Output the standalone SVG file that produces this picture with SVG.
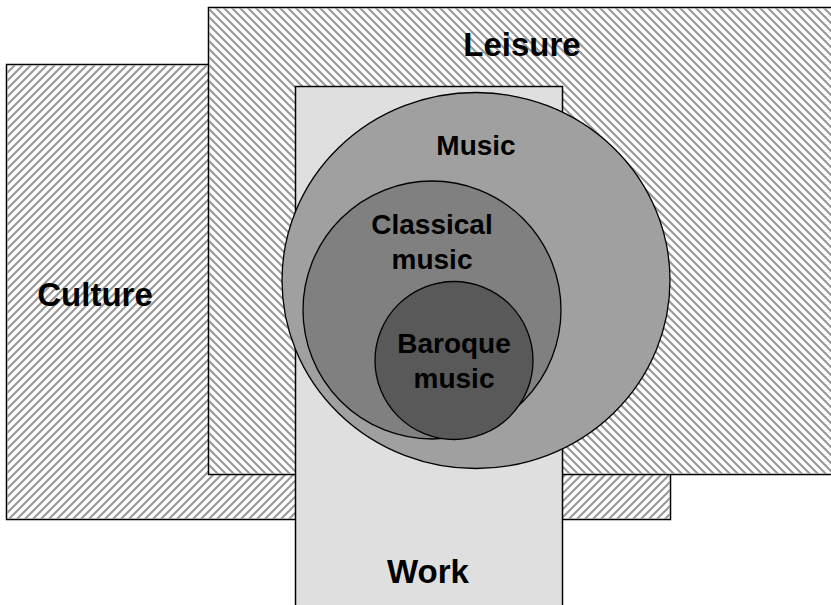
<svg xmlns="http://www.w3.org/2000/svg" width="831" height="605" viewBox="0 0 831 605">
  <defs>
    <!-- forward-slash hatching -->
    <pattern id="hatchFwd" patternUnits="userSpaceOnUse" width="8" height="8">
      <path d="M-2,2 L2,-2 M0,8 L8,0 M6,10 L10,6" stroke="#9a9a9a" stroke-width="2.2"/>
    </pattern>
    <!-- back-slash hatching -->
    <pattern id="hatchBack" patternUnits="userSpaceOnUse" width="8" height="8">
      <path d="M-2,6 L2,10 M0,0 L8,8 M6,-2 L10,2" stroke="#9a9a9a" stroke-width="2.2"/>
    </pattern>
  </defs>
  <style>
    .box { stroke: #000; stroke-width: 1.5; }
    .ring { stroke: #000; stroke-width: 1.3; }
    .label { font-family: "Liberation Sans", Arial, sans-serif; font-weight: bold; fill: #000; text-anchor: middle; }
    .big { font-size: 33px; }
    .mid { font-size: 28px; }
  </style>
  <rect width="831" height="605" fill="#fff"/>

  <g id="culture">
    <rect class="box" x="6.5" y="64.5" width="664" height="455" fill="#fff"/>
    <rect x="7" y="65" width="663" height="454" fill="url(#hatchFwd)"/>
    <text class="label big" x="95" y="306">Culture</text>
  </g>

  <g id="leisure">
    <rect class="box" x="208.5" y="7.5" width="630" height="467" fill="#fff"/>
    <rect x="209" y="8" width="630" height="466" fill="url(#hatchBack)"/>
    <text class="label big" x="522" y="56">Leisure</text>
  </g>

  <g id="work">
    <rect class="box" x="295.5" y="86.5" width="267" height="525" fill="#dfdfdf"/>
    <text class="label big" x="428" y="583">Work</text>
  </g>

  <g id="music">
    <ellipse class="ring" cx="476" cy="280.5" rx="194" ry="188" fill="#a0a0a0"/>
    <text class="label mid" x="476" y="155">Music</text>
  </g>

  <g id="classical-music">
    <circle class="ring" cx="432" cy="310" r="129" fill="#808080"/>
    <text class="label mid" x="432" y="234">Classical</text>
    <text class="label mid" x="432" y="269">music</text>
  </g>

  <g id="baroque-music">
    <circle class="ring" cx="454" cy="360.5" r="79" fill="#595959"/>
    <text class="label mid" x="454" y="353">Baroque</text>
    <text class="label mid" x="454" y="388">music</text>
  </g>

  <g id="connectors"/>
</svg>
